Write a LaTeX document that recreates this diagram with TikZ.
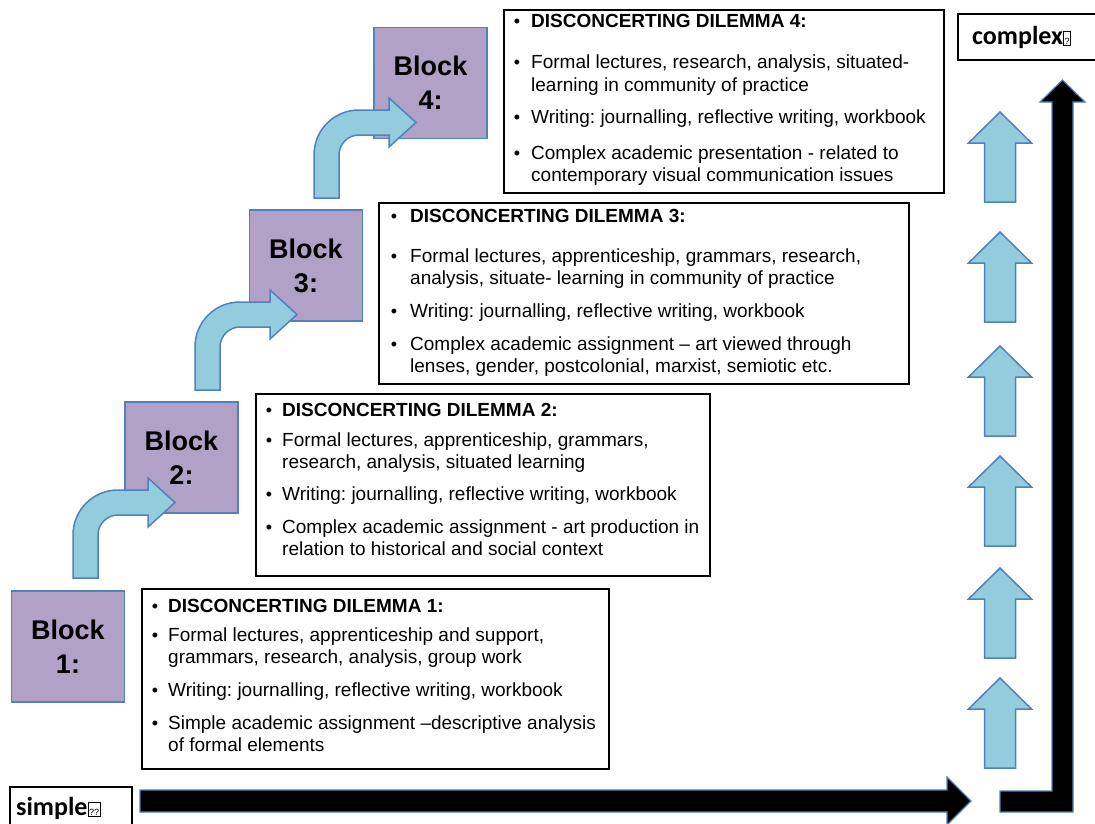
\documentclass[tikz,border=0pt]{standalone}
\usepackage{fontspec}
\setmainfont{Liberation Sans}
\newfontfamily\calib{Carlito}
\definecolor{lblue}{HTML}{93CDDD}
\definecolor{bblue}{HTML}{4F81BD}
\definecolor{purp}{HTML}{B2A1C7}
\frenchspacing
\newcommand\tofubox[1]{\raisebox{0pt}{\fboxsep=0.8pt\fboxrule=0.7pt\fbox{\normalfont\fontsize{9}{9}\selectfont\rule{0pt}{12pt}#1}}}
\begin{document}
\begin{tikzpicture}[x=1pt,y=-1pt,
  blockbox/.style={draw=bblue, line width=1.5pt, fill=purp, minimum width=113pt, minimum height=111pt, inner sep=0pt, align=center, font=\bfseries\fontsize{27}{38}\selectfont},
  txtbox/.style={draw=black, line width=1.5pt, fill=white, inner sep=0pt, anchor=north west},
  itm/.style={anchor=base west, inner sep=0pt, font=\fontsize{19}{22}\selectfont},
  bul/.style={anchor=base, inner sep=0pt, font=\fontsize{18}{22}\selectfont},
  shapearrow/.style={fill=lblue, draw=bblue, line width=1.5pt, line join=miter},
  blackarrow/.style={fill=black, draw=bblue, line width=1.2pt, line join=miter},
  lblbox/.style={draw=black, line width=1.5pt, fill=white, inner sep=0pt, anchor=north west},
  lbltext/.style={anchor=base west, inner sep=0pt, font=\calib\bfseries\fontsize{26}{30}\selectfont},
  bent/.pic={
    \path[shapearrow] (0,88) -- (0,45) .. controls (0,20) and (20,0) .. (45,0) -- (75,0) -- (75,-12) -- (102,12.5) -- (75,37) -- (75,25) -- (45,25) .. controls (34,25) and (25,34) .. (25,45) -- (25,88) -- cycle;
  },
  uparr/.pic={
    \path[shapearrow] (-15.5,90) -- (-15.5,31) -- (-31.5,31) -- (0,0) -- (31.5,31) -- (15.5,31) -- (15.5,90) -- cycle;
  }
]
\useasboundingbox (0,0) rectangle (1095,823);

% blocks
\node[blockbox] (b1) at (68,646.5) {\raisebox{-3pt}{Block}\\[-1pt]1:};
\node[blockbox] (b2) at (181.5,457.5) {\raisebox{-3pt}{Block}\\[-1pt]2:};
\node[blockbox] (b3) at (306,265.5) {\raisebox{-3pt}{Block}\\[-1pt]3:};
\node[blockbox] (b4) at (430.5,83) {\raisebox{-3pt}{Block}\\[-1pt]4:};

% bent arrows
\pic at (73,490) {bent};
\pic at (195,302) {bent};
\pic at (314,110) {bent};

% text box 1
\node[txtbox, minimum width=467pt, minimum height=180pt] (t1) at (141,588) {};
\node[bul] (t1b1) at (155,612) {•};
\node[itm] (t1h) at (168,612) {\bfseries DISCONCERTING DILEMMA 1:};
\node[bul] (t1b2) at (155,641) {•};
\node[itm] (t1a1) at (168,641) {Formal lectures, apprenticeship and support,};
\node[itm] (t1a2) at (168,663) {grammars, research, analysis, group work};
\node[bul] (t1b3) at (155,696) {•};
\node[itm] (t1c) at (168,696) {Writing: journalling, reflective writing, workbook};
\node[bul] (t1b4) at (155,729) {•};
\node[itm] (t1d1) at (168,729) {Simple academic assignment –descriptive analysis};
\node[itm] (t1d2) at (168,751) {of formal elements};

% text box 2
\node[txtbox, minimum width=454pt, minimum height=182pt] (t2) at (255,393) {};
\node[bul] (t2b1) at (269,416) {•};
\node[itm] (t2h) at (282,416) {\bfseries DISCONCERTING DILEMMA 2:};
\node[bul] (t2b2) at (269,446) {•};
\node[itm] (t2a1) at (282,446) {Formal lectures, apprenticeship, grammars,};
\node[itm] (t2a2) at (282,468) {research, analysis, situated learning};
\node[bul] (t2b3) at (269,500) {•};
\node[itm] (t2c) at (282,500) {Writing: journalling, reflective writing, workbook};
\node[bul] (t2b4) at (269,533) {•};
\node[itm] (t2d1) at (282,533) {Complex academic assignment - art production in};
\node[itm] (t2d2) at (282,555) {relation to historical and social context};

% text box 3
\node[txtbox, minimum width=530pt, minimum height=181pt] (t3) at (378,202) {};
\node[bul] (t3b1) at (394,222) {•};
\node[itm] (t3h) at (410,222) {\bfseries DISCONCERTING DILEMMA 3:};
\node[bul] (t3b2) at (394,262) {•};
\node[itm] (t3a1) at (410,262) {Formal lectures, apprenticeship, grammars, research,};
\node[itm] (t3a2) at (410,284) {analysis, situate- learning in community of practice};
\node[bul] (t3b3) at (394,317) {•};
\node[itm] (t3c) at (410,317) {Writing: journalling, reflective writing, workbook};
\node[bul] (t3b4) at (394,350) {•};
\node[itm] (t3d1) at (410,350) {Complex academic assignment – art viewed through};
\node[itm] (t3d2) at (410,372) {lenses, gender, postcolonial, marxist, semiotic etc.};

% text box 4
\node[txtbox, minimum width=440pt, minimum height=183pt] (t4) at (503,9) {};
\node[bul] (t4b1) at (517,27) {•};
\node[itm] (t4h) at (531,27) {\bfseries DISCONCERTING DILEMMA 4:};
\node[bul] (t4b2) at (517,68) {•};
\node[itm] (t4a1) at (531,68) {Formal lectures, research, analysis, situated-};
\node[itm] (t4a2) at (531,91) {learning in community of practice};
\node[bul] (t4b3) at (517,123) {•};
\node[itm] (t4c) at (531,123) {Writing: journalling, reflective writing, workbook};
\node[bul] (t4b4) at (517,159) {•};
\node[itm] (t4d1) at (531,159) {Complex academic presentation - related to};
\node[itm] (t4d2) at (531,181) {contemporary visual communication issues};

% labels
\node[lblbox, minimum width=122pt, minimum height=50pt] (sbox) at (9,786) {};
\node[lbltext] (stxt) at (16,815) {simple\tofubox{??}};
\node[lblbox, minimum width=150pt, minimum height=46pt] (cbox) at (957,13) {};
\node[lbltext] (ctxt) at (972,44) {complex\tofubox{?}};

% horizontal black arrow
\path[blackarrow] (140,790) -- (947,790) -- (947,777) -- (971,801) -- (947,825) -- (947,812) -- (140,812) -- cycle;
% L black arrow
\path[blackarrow] (1000,791) -- (1052,791) -- (1052,102) -- (1040,102) -- (1062.5,80) -- (1085,102) -- (1073,102) -- (1073,812) -- (1000,812) -- cycle;

% up arrows
\foreach \a in {112,232,346,456,568,678} { \pic at (1000,\a) {uparr}; }
\end{tikzpicture}
\end{document}
